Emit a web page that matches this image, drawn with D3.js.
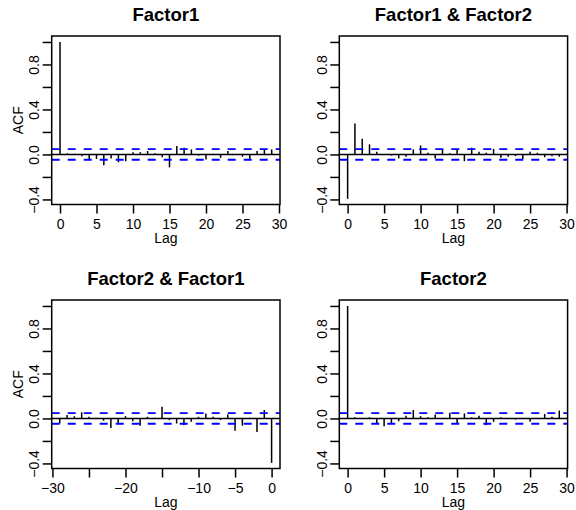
<!DOCTYPE html>
<html>
<head>
<meta charset="utf-8">
<script src="https://cdn.jsdelivr.net/npm/d3@7.9.0/dist/d3.min.js"></script>
<style>
  html, body { margin: 0; padding: 0; background: #fff; }
  svg { display: block; font-family: 'Liberation Sans', Arial, Helvetica, sans-serif; }
</style>
</head>
<body>
<svg id="chart" width="576" height="510"></svg>
<script>
// lags
const lagsPos = d3.range(0, 31);
const lagsNeg = d3.range(-30, 1);

// acf values
const acfFactor1 = [1.00, 0.01, 0.005, -0.015, -0.045, -0.04, -0.095, -0.035, -0.07, -0.06,
  0.02, 0.02, 0.03, 0.01, -0.025, -0.115, 0.075, 0.06, 0.045, -0.01,
  -0.045, 0.005, -0.03, 0.03, 0.005, -0.02, -0.04, 0.03, 0.04, 0.045, 0.005];
const acfFactor1Factor2 = [-0.395, 0.275, 0.14, 0.09, 0.025, 0.005, -0.01, -0.035, -0.02, 0.045,
  0.08, 0.015, -0.035, 0.045, 0.01, 0.04, -0.06, 0.06, 0.025, 0.015,
  0.05, -0.03, -0.02, -0.015, -0.04, 0.025, 0.015, -0.025, -0.015, -0.02, 0.005];
const acfFactor2Factor1 = [0.005, -0.045, 0.03, 0.02, 0.055, 0.015, 0.005, -0.02, -0.085, -0.05,
  0.02, -0.025, -0.065, 0.015, 0.005, 0.105, -0.015, -0.045, -0.06, -0.03,
  0.015, 0.045, 0.015, -0.015, 0.035, -0.11, -0.065, 0.005, -0.12, 0.075, -0.395];
const acfFactor2 = [1.00, 0.01, 0.005, 0.01, -0.05, -0.07, -0.04, -0.025, 0.025, 0.075,
  0.02, 0.01, 0.035, 0.005, 0.05, -0.045, 0.045, 0.01, 0.025, -0.06,
  -0.03, 0.01, 0.005, -0.01, 0.005, -0.03, 0.005, 0.04, 0.015, 0.07, 0.005];

const confLimit = 0.047;

const yTicks = [-0.4, -0.2, 0, 0.2, 0.4, 0.6, 0.8, 1.0];
const yTickLabels = ['\u22120.4', '', '0.0', '', '0.4', '', '0.8', ''];
const xTicksPos = [0, 5, 10, 15, 20, 25, 30];
const xTickLabelsPos = ['0', '5', '10', '15', '20', '25', '30'];
const xTicksNeg = [-30, -25, -20, -15, -10, -5, 0];
const xTickLabelsNeg = ['\u221230', '', '\u221220', '', '\u221210', '\u22125', '0'];

const panels = [
  { title: 'Factor1', lags: lagsPos, values: acfFactor1, col: 0, row: 0, ylab: true,
    xdom: [-1.14, 30.14], xt: xTicksPos, xl: xTickLabelsPos },
  { title: 'Factor1 & Factor2', lags: lagsPos, values: acfFactor1Factor2, col: 1, row: 0, ylab: false,
    xdom: [-1.14, 30.14], xt: xTicksPos, xl: xTickLabelsPos },
  { title: 'Factor2 & Factor1', lags: lagsNeg, values: acfFactor2Factor1, col: 0, row: 1, ylab: true,
    xdom: [-30.1, 1.15], xt: xTicksNeg, xl: xTickLabelsNeg },
  { title: 'Factor2', lags: lagsPos, values: acfFactor2, col: 1, row: 1, ylab: false,
    xdom: [-1.14, 30.14], xt: xTicksPos, xl: xTickLabelsPos },
];

const colLeft = [51.7, 339.3];
const rowTop = [36, 300];
const boxW = 228.3;
const boxH = 168.5;
const tickLen = 9;

const svg = d3.select('#chart');

for (const p of panels) {
  const x0 = colLeft[p.col];
  const y0 = rowTop[p.row];
  const g = svg.append('g').attr('transform', `translate(${x0},${y0})`);

  const x = d3.scaleLinear().domain(p.xdom).range([0, boxW]);
  const y = d3.scaleLinear().domain([-0.445, 1.053]).range([boxH, 0]);

  // bars
  g.selectAll('line.bar')
    .data(p.values)
    .join('line')
    .attr('class', 'bar')
    .attr('x1', (d, i) => x(p.lags[i]))
    .attr('x2', (d, i) => x(p.lags[i]))
    .attr('y1', y(0))
    .attr('y2', (d) => y(d))
    .attr('stroke', '#000')
    .attr('stroke-width', 1.5);

  // zero line
  g.append('line')
    .attr('x1', 0).attr('x2', boxW)
    .attr('y1', y(0)).attr('y2', y(0))
    .attr('stroke', '#000').attr('stroke-width', 1.5);

  // confidence bands
  for (const c of [confLimit, -confLimit]) {
    g.append('line')
      .attr('x1', 0).attr('x2', boxW)
      .attr('y1', y(c)).attr('y2', y(c))
      .attr('stroke', '#0000ff').attr('stroke-width', 1.8)
      .attr('stroke-dasharray', '8,8');
  }

  // box
  g.append('rect')
    .attr('width', boxW).attr('height', boxH)
    .attr('fill', 'none').attr('stroke', '#000').attr('stroke-width', 1.5);

  // x axis
  const xAxis = g.append('g')
    .attr('transform', `translate(0,${boxH})`)
    .call(d3.axisBottom(x).tickValues(p.xt).tickSize(tickLen).tickSizeOuter(0)
      .tickFormat((d, i) => p.xl[i]));
  xAxis.select('.domain').remove();
  xAxis.selectAll('line').attr('stroke', '#000').attr('stroke-width', 1.5);
  xAxis.selectAll('text')
    .attr('y', 24.5).attr('dy', null)
    .attr('fill', '#000')
    .style('font-size', '14px');

  // y axis
  const yAxis = g.append('g')
    .call(d3.axisLeft(y).tickValues(yTicks).tickSize(tickLen).tickSizeOuter(0)
      .tickFormat((d, i) => yTickLabels[i]));
  yAxis.select('.domain').remove();
  yAxis.selectAll('line').attr('stroke', '#000').attr('stroke-width', 1.5);
  yAxis.selectAll('text')
    .attr('x', null).attr('dy', null)
    .attr('transform', 'translate(-12.5,0) rotate(-90)')
    .attr('text-anchor', 'middle')
    .attr('fill', '#000')
    .style('font-size', '14px');

  // titles
  g.append('text')
    .attr('x', boxW / 2).attr('y', -15.3)
    .attr('text-anchor', 'middle')
    .style('font-size', '18.5px').style('font-weight', 'bold')
    .text(p.title);

  g.append('text')
    .attr('x', boxW / 2).attr('y', boxH + 38.5)
    .attr('text-anchor', 'middle')
    .style('font-size', '14px')
    .text('Lag');

  if (p.ylab) {
    g.append('text')
      .attr('transform', `translate(-29,${boxH / 2}) rotate(-90)`)
      .attr('text-anchor', 'middle')
      .style('font-size', '14px')
      .text('ACF');
  }
}
</script>
</body>
</html>
